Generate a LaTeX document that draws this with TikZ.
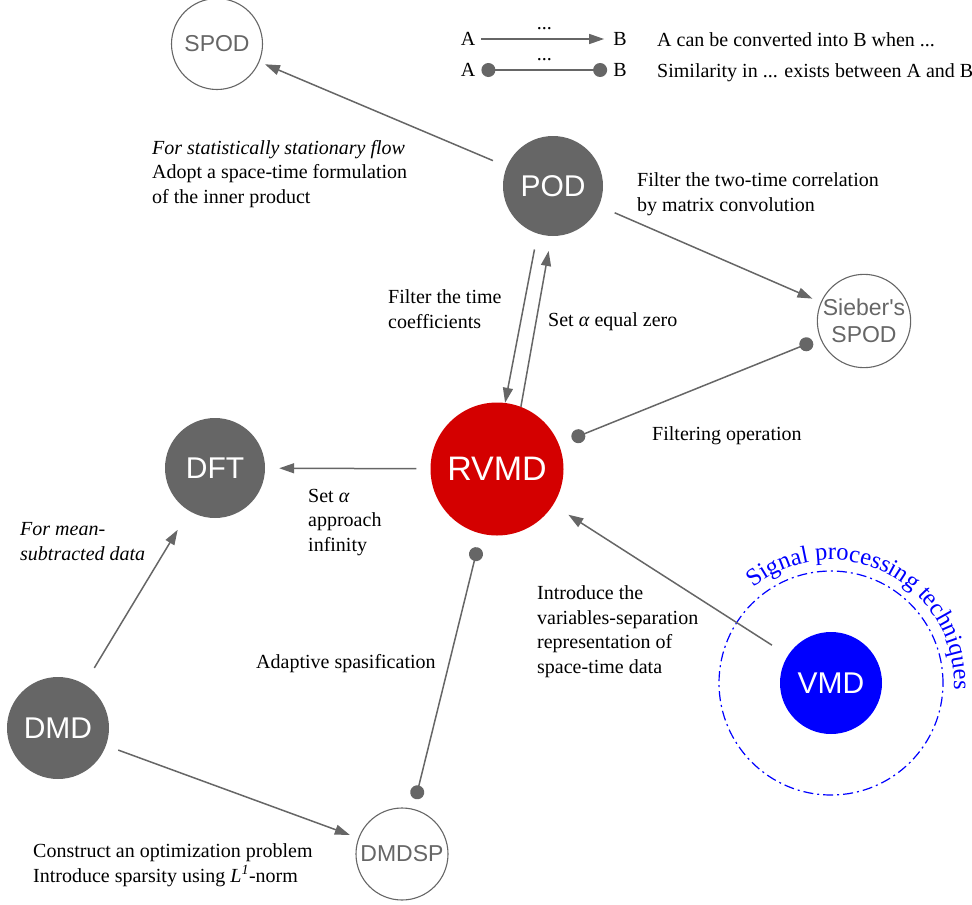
\documentclass[tikz,border=0pt]{standalone}
\usepackage{fontspec}
\setmainfont{Liberation Serif}
\newfontfamily\nodefont{Liberation Sans}
\usepackage{tikz}
\usetikzlibrary{arrows.meta,positioning,decorations.text}
\definecolor{dfgray}{RGB}{102,102,102}
\definecolor{dfred}{RGB}{212,0,0}
\definecolor{dfblue}{RGB}{0,0,255}
\tikzstyle{darknode} = [circle, fill=dfgray, text=white, inner sep=0pt, minimum size=100pt, font=\nodefont\fontsize{30}{36}\selectfont]
\tikzstyle{hollownode} = [circle, draw=dfgray, line width=1.1pt, text=dfgray, inner sep=0pt, minimum size=92pt, align=center, font=\nodefont\fontsize{23}{27}\selectfont]
\tikzstyle{arrow} = [line width=1.5pt, draw=dfgray, -{Triangle[length=15pt,width=10pt]}]
\tikzstyle{similar} = [line width=1.5pt, draw=dfgray, {Circle[length=14pt]}-{Circle[length=14pt]}]
\tikzstyle{note} = [anchor=base west, align=left, inner sep=0pt, font=\fontsize{20}{24.5}\selectfont]
\tikzstyle{legend} = [inner sep=0pt, font=\fontsize{20}{24}\selectfont]

\begin{document}
\begin{tikzpicture}[x=1pt, y=1pt]
\useasboundingbox (0,0) rectangle (972,-905);
% legend
\node[legend] (A1) at (468,-39) {A};
\node[legend] (B1) at (620,-39) {B};
\node[legend] (A2) at (468,-70) {A};
\node[legend] (B2) at (620,-70) {B};
\draw[arrow, shorten <=6pt, shorten >=9pt] (A1) -- (B1) node[legend, midway, above=8pt] {...};
\draw[similar, shorten <=6pt, shorten >=6pt] (A2) -- (B2) node[legend, midway, above=8pt] {...};
\node[note] (conv) at (657,-46) {A can be converted into B when ...};
\node[note] (simi) at (657,-77) {Similarity in ... exists between A and B};
% methods
\node[hollownode, minimum size=91pt] (SPOD) at (217,-44) {SPOD};
\node[darknode] (POD) at (553,-186) {POD};
\node[hollownode] (Sieber) at (864,-321) {Sieber's\\SPOD};
\node[darknode, fill=dfred, minimum size=133pt, font=\nodefont\fontsize{34}{40}\selectfont] (RVMD) at (497,-469) {RVMD};
\node[darknode] (DFT) at (215,-468) {DFT};
\node[darknode, minimum size=102pt] (DMD) at (58,-728) {DMD};
\node[hollownode] (DMDSP) at (402,-854) {DMDSP};
\node[darknode, fill=dfblue, minimum size=102pt] (VMD) at (831,-683) {VMD};
\node[circle, draw=dfblue, line width=1.2pt, dash pattern=on 10pt off 4pt on 2pt off 4pt, minimum size=224pt] (ring) at (VMD) {};
\path[decorate, decoration={text along path, text align=center, text={|\color{dfblue}\fontsize{24.5}{24.5}\selectfont|Signal processing techniques}}]
  ([shift={(131:123pt)}]VMD.center) arc[start angle=131, end angle=-5, radius=123pt];
% connectors
\draw[arrow, shorten <=15pt, shorten >=6pt] (POD) -- (SPOD);
\draw[arrow, shorten <=17pt, shorten >=9pt] (POD) -- (Sieber);
\draw[arrow, shorten <=16pt] (POD.252) -- (RVMD.83);
\draw[arrow, shorten >=15pt] (RVMD.69) -- (POD.268);
\draw[similar, shorten <=14pt, shorten >=8pt] (RVMD) -- (Sieber);
\draw[arrow, shorten <=14pt, shorten >=14pt] (RVMD) -- (DFT);
\draw[arrow, shorten <=19pt, shorten >=22pt] (DMD) -- (DFT);
\draw[arrow, shorten <=13pt, shorten >=9pt] (DMD) -- (DMDSP);
\draw[similar, shorten <=10pt, shorten >=14pt] (DMDSP) -- (RVMD);
\draw[arrow, shorten <=19pt, shorten >=18pt] (VMD) -- (RVMD);
% labels (anchored at the baseline of the last line)
\node[note] (l1) at (152,-203) {\textit{For statistically stationary flow}\\Adopt a space-time formulation\\of the inner product};
\node[note] (l2) at (637,-211) {Filter the two-time correlation\\by matrix convolution};
\node[note] (l3) at (388,-328) {Filter the time\\coefficients};
\node[note] (l4) at (548,-326) {Set \textit{α} equal zero};
\node[note] (l5) at (652,-440) {Filtering operation};
\node[note] (l6) at (308,-551) {Set \textit{α}\\approach\\infinity};
\node[note] (l7) at (20,-560) {\textit{For mean-}\\\textit{subtracted data}};
\node[note] (l8) at (256,-668) {Adaptive spasification};
\node[note] (l9) at (537,-673) {Introduce the\\variables-separation\\representation of\\space-time data};
\node[note] (l10) at (33,-882) {Construct an optimization problem\\Introduce sparsity using \textit{L}\textsuperscript{\textit{1}}-norm};
\end{tikzpicture}
\end{document}
